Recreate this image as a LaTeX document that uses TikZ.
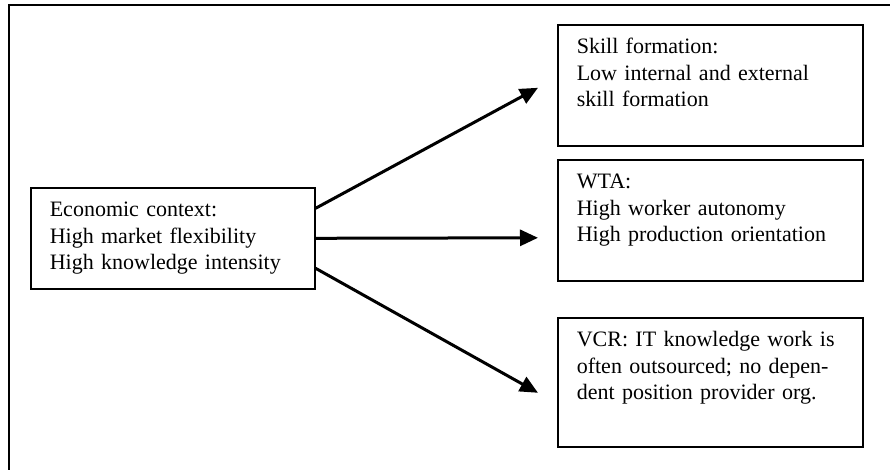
\documentclass[tikz,border=0pt]{standalone}
\usepackage{fontspec}
\setmainfont{Liberation Serif}
\usepackage{tikz}
\usetikzlibrary{arrows.meta}

\begin{document}
\begin{tikzpicture}[x=0.5pt, y=-0.5pt,
	box/.style={draw, line width=0.8pt, anchor=north west, align=left, inner xsep=9.5pt, inner ysep=5pt, text height=9.5pt, font=\fontsize{11}{13.25}\selectfont},
	conn/.style={line width=1.5pt, -{Triangle[length=9pt,width=8pt]}}]
	\clip (0,0) rectangle (890,470);
	\draw[line width=0.8pt] (9,5) rectangle (900,480);
	\node[box, text width=123pt, text depth=31pt] (ctx) at (30,187) {Economic context:\\High market flexibility\\High knowledge intensity};
	\node[box, text width=133.5pt, text depth=41pt] (skill) at (557,24) {Skill formation:\\Low internal and external\\skill formation};
	\node[box, text width=133.5pt, text depth=41pt] (wta) at (557,159) {WTA:\\High worker autonomy\\High production orientation};
	\node[box, text width=133.5pt, text depth=45pt] (vcr) at (557,317) {VCR: IT knowledge work is\\often outsourced; no depen-\\dent position provider org.};
	\draw[conn] ([yshift=15pt]ctx.east) -- ([xshift=-9.5pt, yshift=-1.25pt]skill.west);
	\draw[conn] (ctx.east) -- ([xshift=-9.5pt, yshift=-8.75pt]wta.west);
	\draw[conn] ([yshift=-15pt]ctx.east) -- ([xshift=-9.5pt, yshift=-5.25pt]vcr.west);
\end{tikzpicture}
\end{document}
